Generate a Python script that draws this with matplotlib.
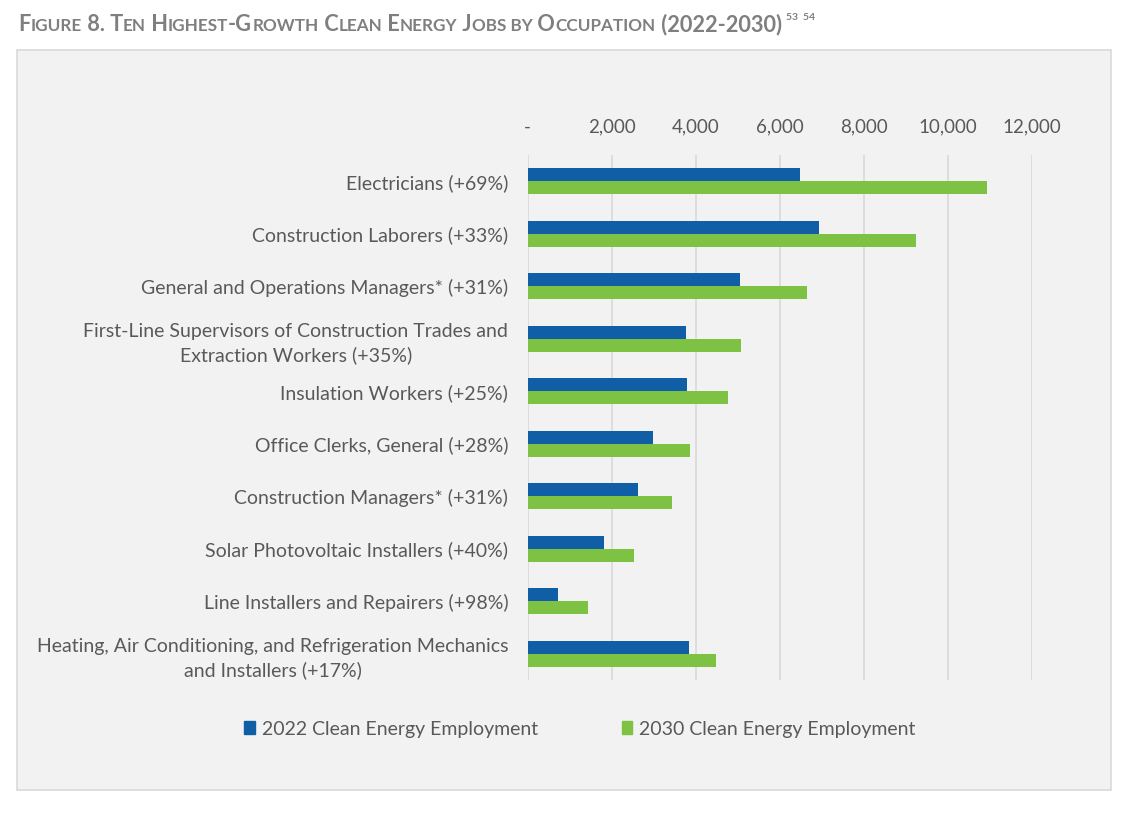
import matplotlib
matplotlib.use("Agg")
import matplotlib.pyplot as plt
from matplotlib.patches import Rectangle, Patch
from matplotlib.ticker import FuncFormatter

plt.rcParams["font.family"] = ["Lato", "DejaVu Sans"]

occupations = [
    "Electricians (+69%)",
    "Construction Laborers (+33%)",
    "General and Operations Managers* (+31%)",
    "First-Line Supervisors of Construction Trades and\nExtraction Workers (+35%)",
    "Insulation Workers (+25%)",
    "Office Clerks, General (+28%)",
    "Construction Managers* (+31%)",
    "Solar Photovoltaic Installers (+40%)",
    "Line Installers and Repairers (+98%)",
    "Heating, Air Conditioning, and Refrigeration Mechanics\nand Installers (+17%)",
]
jobs_2022 = [6470, 6940, 5060, 3760, 3800, 2990, 2620, 1820, 720, 3830]
jobs_2030 = [10920, 9240, 6650, 5080, 4770, 3860, 3430, 2540, 1440, 4480]
x_ticks = [0, 2000, 4000, 6000, 8000, 10000, 12000]
series_names = ["2022 Clean Energy Employment", "2030 Clean Energy Employment"]

blue = "#0F5EA6"
green = "#7DC242"
text_gray = "#595959"

W, H = 1130, 818
fig = plt.figure(figsize=(W / 100, H / 100), dpi=100)
fig.patch.set_facecolor("white")

# grey panel behind the chart
panel = Rectangle((17 / W, 1 - 790 / H), (1111 - 17) / W, (790 - 50) / H,
                  transform=fig.transFigure, facecolor="#F2F2F2",
                  edgecolor="#D9D9D9", linewidth=1.2, zorder=-5)
fig.add_artist(panel)

ax = fig.add_axes([527.7 / W, 1 - 680 / H, (1032 - 527.7) / W, (680 - 155) / H])
ax.set_facecolor("none")

pos = list(range(len(occupations)))
bh = 0.25
ax.barh([p - bh / 2 for p in pos], jobs_2022, height=bh, color=blue, zorder=3)
ax.barh([p + bh / 2 for p in pos], jobs_2030, height=bh, color=green, zorder=3)

ax.set_xlim(0, 12000)
ax.set_ylim(len(occupations) - 0.5, -0.5)
ax.set_xticks(x_ticks)
ax.xaxis.set_major_formatter(FuncFormatter(lambda v, _: "-" if v == 0 else f"{v:,.0f}"))
ax.xaxis.tick_top()
ax.tick_params(axis="x", length=0, pad=14, labelsize=13.5, labelcolor=text_gray)
ax.set_yticks(pos)
ax.set_yticklabels(occupations, multialignment="center", linespacing=1.45)
ax.tick_params(axis="y", length=0, pad=14, labelsize=14, labelcolor=text_gray)
ax.grid(axis="x", color="#D9D9D9", linewidth=1.2, zorder=0)
for s in ax.spines.values():
    s.set_visible(False)

handles = [Patch(color=blue), Patch(color=green)]
fig.legend(handles, series_names, loc="center", bbox_to_anchor=(580 / W, 1 - 729 / H),
           ncol=2, frameon=False, fontsize=14, labelcolor=text_gray,
           handlelength=0.55, handleheight=0.6, handletextpad=0.35, columnspacing=4.3)

# small-caps title, drawn piece by piece
big, small = 15.7, 12.3
title_parts = [("F", big), ("IGURE", small), (" 8. T", big), ("EN", small), (" H", big),
               ("IGHEST", small), ("-G", big), ("ROWTH", small), (" C", big), ("LEAN", small),
               (" E", big), ("NERGY", small), (" J", big), ("OBS BY", small), (" O", big),
               ("CCUPATION", small), (" (2022-2030)", big)]
renderer = fig.canvas.get_renderer()
x = 18 / W
y = 1 - 31 / H
for txt, size in title_parts:
    t = fig.text(x, y, txt, fontsize=size, fontweight="bold", color="#7F7F7F",
                 ha="left", va="baseline")
    bb = t.get_window_extent(renderer)
    x = bb.x1 / W
fig.text(x + 4 / W, 1 - 20 / H, "53  54", fontsize=7.5, fontweight="bold",
         color="#7F7F7F", ha="left", va="baseline")

fig.savefig("out.png", dpi=100)
